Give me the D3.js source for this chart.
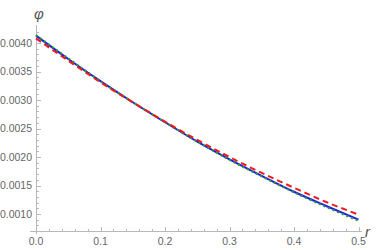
<!DOCTYPE html>
<html>
<head>
<meta charset="utf-8">
<script src="https://cdn.jsdelivr.net/npm/d3@7"></script>
<style>
  body { margin: 0; background: #fff; }
  svg text { font-family: "Liberation Sans", Arial, sans-serif; }
</style>
</head>
<body>
<svg id="chart" width="382" height="250"></svg>
<script>
// radial coordinate and the three solutions
var rValues = [0, 0.05, 0.1, 0.15, 0.2, 0.25, 0.3, 0.35, 0.4, 0.45, 0.5];
var phiBlue = [0.00413, 0.00372, 0.00333, 0.00296, 0.00261, 0.00227, 0.00196, 0.00167, 0.00139, 0.00114, 0.00090];
var phiGreen = [0.00414, 0.00373, 0.00333, 0.00296, 0.00261, 0.00227, 0.00195, 0.00166, 0.00138, 0.00112, 0.00088];
var phiRed = [0.00408, 0.00369, 0.00331, 0.00296, 0.00262, 0.00230, 0.00200, 0.00172, 0.00146, 0.00121, 0.00099];
var xTicks = [0, 0.1, 0.2, 0.3, 0.4, 0.5];
var yTicks = [0.0010, 0.0015, 0.0020, 0.0025, 0.0030, 0.0035, 0.0040];

var svg = d3.select('#chart');

var x = d3.scaleLinear().domain([0, 0.5]).range([36, 358.5]);
var y = d3.scaleLinear().domain([0.0010, 0.0040]).range([214, 43]);

var axisColor = '#b8b8b8';
var labelColor = '#666';

// x axis line
svg.append('line')
  .attr('x1', 30).attr('x2', 362)
  .attr('y1', 231.5).attr('y2', 231.5)
  .attr('stroke', axisColor).attr('stroke-width', 1);

// y axis line
svg.append('line')
  .attr('x1', 36.5).attr('x2', 36.5)
  .attr('y1', 25).attr('y2', 234)
  .attr('stroke', axisColor).attr('stroke-width', 1);

// x ticks, major and minor
var xMinor = d3.range(0, 0.5001, 0.02);
svg.append('g').selectAll('line')
  .data(xMinor)
  .enter().append('line')
    .attr('x1', function(d) { return Math.round(x(d)) + 0.5; })
    .attr('x2', function(d) { return Math.round(x(d)) + 0.5; })
    .attr('y1', 231.5)
    .attr('y2', function(d) { return Math.abs(d * 10 - Math.round(d * 10)) < 1e-6 ? 227 : 229; })
    .attr('stroke', axisColor);

svg.append('g').selectAll('text')
  .data(xTicks)
  .enter().append('text')
    .attr('x', function(d) { return x(d); })
    .attr('y', 245)
    .attr('text-anchor', 'middle')
    .attr('font-size', 10.5)
    .attr('fill', labelColor)
    .text(function(d) { return d.toFixed(1); });

// y ticks, major and minor
var yMinor = d3.range(0.0008, 0.00425, 0.0001);
svg.append('g').selectAll('line')
  .data(yMinor)
  .enter().append('line')
    .attr('x1', 36.5)
    .attr('x2', function(d) { return Math.abs(d * 2000 - Math.round(d * 2000)) < 1e-6 ? 41 : 39; })
    .attr('y1', function(d) { return Math.round(y(d)) + 0.5; })
    .attr('y2', function(d) { return Math.round(y(d)) + 0.5; })
    .attr('stroke', axisColor);

svg.append('g').selectAll('text')
  .data(yTicks)
  .enter().append('text')
    .attr('x', 32)
    .attr('y', function(d) { return y(d) + 3.8; })
    .attr('text-anchor', 'end')
    .attr('font-size', 10.5)
    .attr('fill', labelColor)
    .text(function(d) { return d.toFixed(4); });

// axis labels
svg.append('text')
  .attr('x', 34).attr('y', 19)
  .attr('font-size', 15)
  .attr('font-style', 'italic')
  .attr('font-family', 'Liberation Serif, serif')
  .attr('fill', '#555')
  .text('φ');

svg.append('text')
  .attr('x', 365).attr('y', 237)
  .attr('font-size', 15)
  .attr('font-style', 'italic')
  .attr('font-family', 'Liberation Serif, serif')
  .attr('fill', '#555')
  .text('r');

// curves
var line = d3.line()
  .x(function(d) { return x(d[0]); })
  .y(function(d) { return y(d[1]); })
  .curve(d3.curveMonotoneX);

function pairs(vals) {
  return rValues.map(function(r, i) { return [r, vals[i]]; });
}

svg.append('path')
  .datum(pairs(phiBlue))
  .attr('d', line)
  .attr('fill', 'none')
  .attr('stroke', '#1f1fe6')
  .attr('stroke-width', 2);

svg.append('path')
  .datum(pairs(phiGreen))
  .attr('d', line)
  .attr('fill', 'none')
  .attr('stroke', '#2ca02c')
  .attr('stroke-width', 2)
  .attr('stroke-dasharray', '2,3');

svg.append('path')
  .datum(pairs(phiRed))
  .attr('d', line)
  .attr('fill', 'none')
  .attr('stroke', '#ee1c1c')
  .attr('stroke-width', 2)
  .attr('stroke-dasharray', '6,4');
</script>
</body>
</html>
